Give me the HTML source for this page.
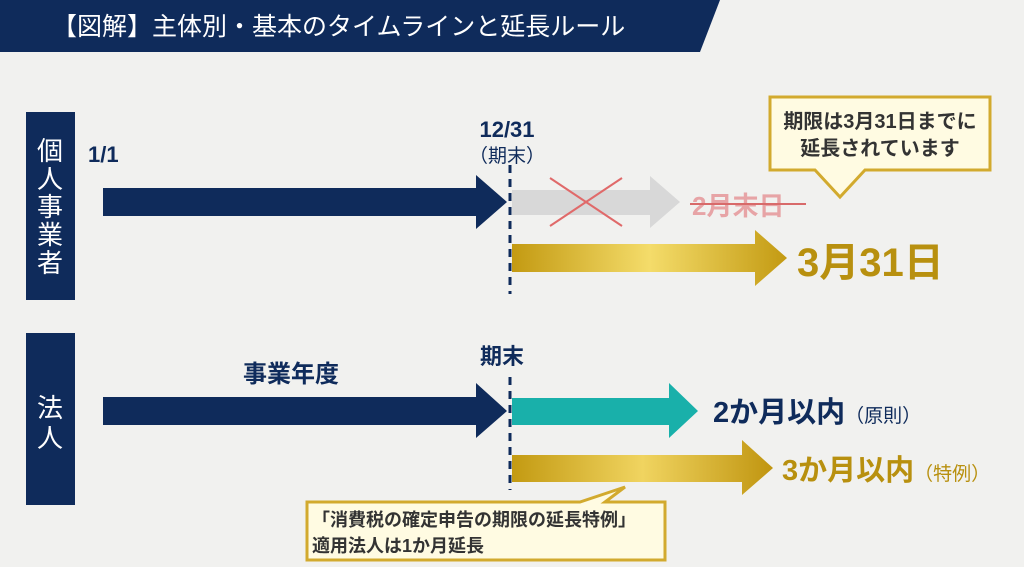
<!DOCTYPE html>
<html><head><meta charset="utf-8"><style>
html,body{margin:0;padding:0;background:#f1f1ef;}
svg{display:block}
text{font-family:"Liberation Sans","Noto Sans CJK JP",sans-serif}
.b{font-weight:bold}
.n{font-weight:normal}
</style></head><body>
<svg width="1024" height="567" viewBox="0 0 1024 567" xmlns="http://www.w3.org/2000/svg">
<defs>
<linearGradient id="gold" x1="0" x2="1" y1="0" y2="0">
<stop offset="0" stop-color="#c39a12"/><stop offset="0.5" stop-color="#f4dc6a"/><stop offset="1" stop-color="#c39a12"/>
</linearGradient>
<linearGradient id="gold2" x1="0" x2="1"><stop offset="0" stop-color="#c39a12"/><stop offset="0.5" stop-color="#f0d460"/><stop offset="1" stop-color="#c09510"/></linearGradient>
</defs>
<rect width="1024" height="567" fill="#f1f1ef"/>
<polygon points="0,0 720,0 700,52 0,52" fill="#0f2b5b"/>
<text x="52" y="35" font-size="25" fill="#fff" class="n">【図解】主体別・基本のタイムラインと延長ルール</text>

<rect x="26" y="112" width="49" height="188" fill="#0f2b5b"/>
<text font-size="26" fill="#fff" text-anchor="middle" class="n"><tspan x="50" y="160">個</tspan><tspan x="50" y="188">人</tspan><tspan x="50" y="216">事</tspan><tspan x="50" y="244">業</tspan><tspan x="50" y="272">者</tspan></text>
<rect x="26" y="333" width="49" height="172" fill="#0f2b5b"/>
<text font-size="26" fill="#fff" text-anchor="middle" class="n"><tspan x="50" y="417">法</tspan><tspan x="50" y="447">人</tspan></text>

<text x="88" y="162" font-size="22" fill="#0f2b5b" class="b">1/1</text>
<text x="507" y="137" font-size="22" fill="#0f2b5b" text-anchor="middle" class="b">12/31</text>
<text x="507" y="162" font-size="19" fill="#0f2b5b" text-anchor="middle" class="n">（期末）</text>

<polygon points="103,188 476,188 476,175 507,202 476,229 476,216 103,216" fill="#0f2b5b"/>
<polygon points="512,190 650,190 650,176 680,202 650,228 650,215 512,215" fill="#d8d8d8"/>
<line x1="550" y1="178" x2="622" y2="226" stroke="#e06a6a" stroke-width="2"/>
<line x1="622" y1="178" x2="550" y2="226" stroke="#e06a6a" stroke-width="2"/>
<text x="692" y="215" font-size="26" fill="#e7a4a6" class="b">2月末日</text>
<line x1="690" y1="204" x2="806" y2="204" stroke="#d86a6a" stroke-width="2"/>
<polygon points="512,244 755,244 755,230 787,258 755,286 755,272 512,272" fill="url(#gold)"/>
<text x="797" y="276" font-size="40" fill="#b8900f" class="b">3月31日</text>

<polygon points="770,97 990,97 990,170 865,170 840,197 815,170 770,170" fill="#fffbe2" stroke="#d2aa2e" stroke-width="3"/>
<text x="880" y="128" font-size="20" fill="#333" text-anchor="middle" class="b">期限は3月31日までに</text>
<text x="880" y="155" font-size="20" fill="#333" text-anchor="middle" class="b">延長されています</text>

<text x="243" y="382" font-size="24" fill="#0f2b5b" class="b">事業年度</text>
<text x="480" y="364" font-size="22" fill="#0f2b5b" class="b">期末</text>
<polygon points="103,397 476,397 476,383 507,411 476,438 476,425 103,425" fill="#0f2b5b"/>
<polygon points="512,398 669,398 669,383 698,411 669,438 669,425 512,425" fill="#19b0aa"/>
<text x="713" y="422" font-size="29" fill="#0f2b5b" class="b">2か月以内<tspan font-size="19" class="n">（原則）</tspan></text>
<polygon points="512,455 742,455 742,440 773,468 742,495 742,482 512,482" fill="url(#gold2)"/>
<text x="782" y="480" font-size="29" fill="#b8900f" class="b">3か月以内<tspan font-size="19" class="n">（特例）</tspan></text>

<line x1="510" y1="165" x2="510" y2="294" stroke="#0f2b5b" stroke-width="3" stroke-dasharray="8,6"/>
<line x1="510" y1="377" x2="510" y2="490" stroke="#0f2b5b" stroke-width="3" stroke-dasharray="8,6"/>

<polygon points="307,502 580,502 625,487 605,502 665,502 665,560 307,560" fill="#fffbe2" stroke="#d2aa2e" stroke-width="3"/>
<text x="312" y="526" font-size="18" fill="#333" class="b">「消費税の確定申告の期限の延長特例」</text>
<text x="312" y="552" font-size="18" fill="#333" class="b">適用法人は1か月延長</text>
</svg>
</body></html>
